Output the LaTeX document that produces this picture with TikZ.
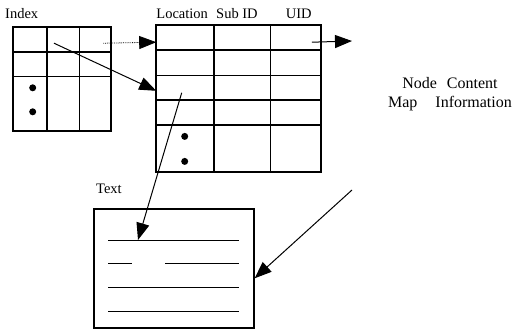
\documentclass[tikz,border=0pt]{standalone}
\usepackage{fontspec}
\setmainfont{Liberation Serif}
\usetikzlibrary{matrix,arrows.meta}

\begin{document}
\begin{tikzpicture}[x=1pt,y=-1pt,
    >={Triangle[length=17pt,width=13pt]},
    cell/.style={draw,line width=0.8pt,inner sep=0pt,outer sep=0pt,minimum height=24pt},
    dot/.style={circle,fill,inner sep=0pt,minimum size=7pt},
    lbl/.style={font=\fontsize{14.5}{16}\selectfont,inner sep=0pt}]

    \useasboundingbox (0,0) rectangle (519,332);

    \matrix[matrix of nodes, nodes in empty cells, nodes={cell},
        column sep=0pt, row sep=0pt, draw, line width=1.6pt, inner sep=0pt,
        anchor=north west,
        column 1/.style={nodes={minimum width=33pt}},
        column 2/.style={nodes={minimum width=32pt}},
        column 3/.style={nodes={minimum width=31pt}},
        row 3/.style={nodes={minimum height=54pt}}] (idx) at (12,26)
    {
        & & \\
        & & \\
        & & \\
    };

    \matrix[matrix of nodes, nodes in empty cells, nodes={cell},
        column sep=0pt, row sep=0pt, draw, line width=1.6pt, inner sep=0pt,
        anchor=north west,
        column 1/.style={nodes={minimum width=57pt}},
        column 2/.style={nodes={minimum width=56pt}},
        column 3/.style={nodes={minimum width=50pt}},
        row 2/.style={nodes={minimum height=25pt}},
        row 5/.style={nodes={minimum height=46pt}}] (loc) at (155,24)
    {
        & & \\
        & & \\
        & & \\
        & & \\
        & & \\
    };

    \node[dot] (idxdot1) at ([shift={(3,-16)}]idx-3-1.center) {};
    \node[dot] (idxdot2) at ([shift={(3,8)}]idx-3-1.center) {};
    \node[dot] (locdot1) at ([shift={(0,-12)}]loc-5-1.center) {};
    \node[dot] (locdot2) at ([shift={(0,13)}]loc-5-1.center) {};

    \node[draw, line width=1.6pt, minimum width=160pt, minimum height=119pt,
        inner sep=0pt, anchor=north west] (txt) at (93,208) {};

    \draw[line width=0.8pt] ([shift={(15,32)}]txt.north west) -- ([shift={(-16,32)}]txt.north east);
    \draw[line width=0.8pt] ([shift={(15,55)}]txt.north west) -- ([shift={(39,55)}]txt.north west);
    \draw[line width=0.8pt] ([shift={(72,55)}]txt.north west) -- ([shift={(-16,55)}]txt.north east);
    \draw[line width=0.8pt] ([shift={(15,79)}]txt.north west) -- ([shift={(-16,79)}]txt.north east);
    \draw[line width=0.8pt] ([shift={(15,103)}]txt.north west) -- ([shift={(-16,103)}]txt.north east);

    \coordinate (uidout) at (352,41);
    \coordinate (mapin) at (352,190);

    \draw[->,densely dotted,line width=0.8pt] ([shift={(8,4)}]idx-1-3.center) -- ([yshift=-5pt]loc-1-1.west);
    \draw[->,line width=1pt] ([shift={(-9,4)}]idx-1-2.center) -- ([yshift=-3pt]loc-3-1.west);
    \draw[->,line width=1pt] ([shift={(16,5)}]loc-1-3.center) -- (uidout);
    \draw[->,line width=1pt] ([shift={(-3,5)}]loc-3-1.center) -- ([shift={(45,32)}]txt.north west);
    \draw[->,line width=1pt] (mapin) -- ([yshift=-10pt]txt.east);

    \node[lbl, anchor=base west] (idxlbl) at ([shift={(-7,-7.5)}]idx.north west) {Index};
    \node[lbl, anchor=base west] (loclbl) at ([yshift=7pt]loc-1-1.north west) {Location};
    \node[lbl, anchor=base west] (sublbl) at ([shift={(2,-7)}]loc-1-2.north west) {Sub ID};
    \node[lbl, anchor=base] (uidlbl) at ([shift={(3,-7)}]loc-1-3.north) {UID};
    \node[lbl, anchor=base west] (txtlbl) at ([shift={(3,-15)}]txt.north west) {Text};

    \node[font=\fontsize{16}{19}\selectfont, align=center, inner sep=0pt] (info) at (450,94)
    {Node\hspace{10pt}Content\\Map\hspace{18pt}Information};

\end{tikzpicture}
\end{document}
